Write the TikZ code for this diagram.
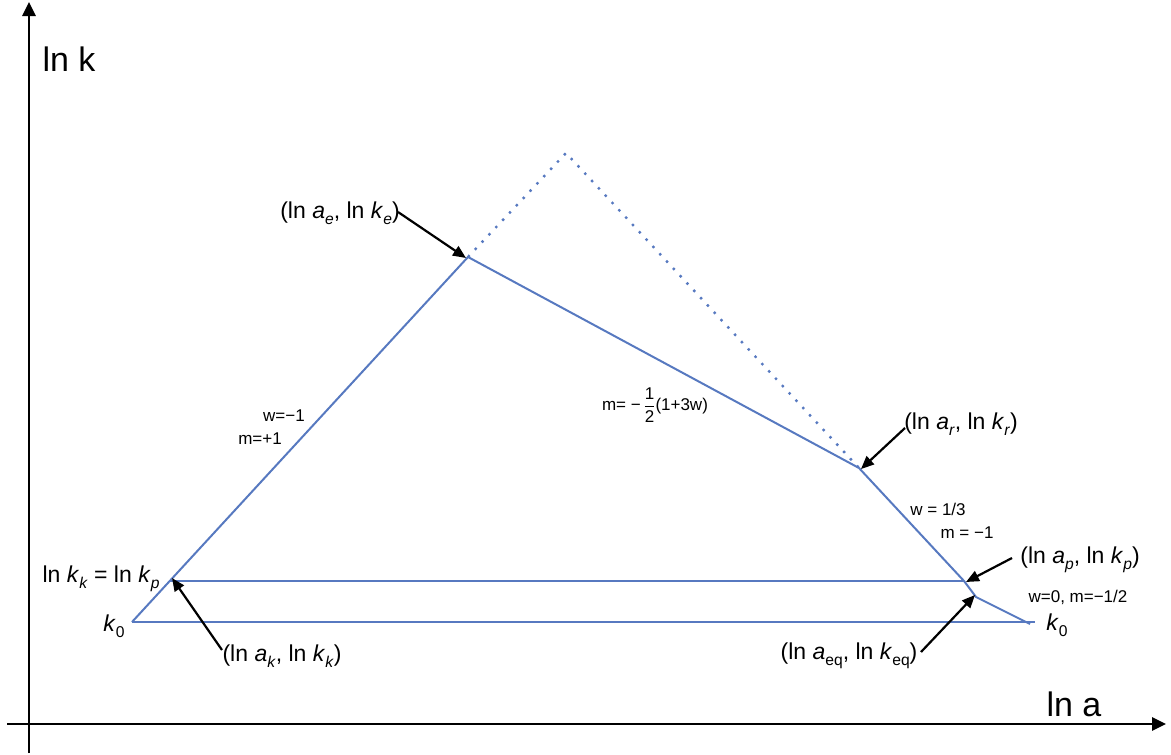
\documentclass[tikz,border=0pt]{standalone}
\usepackage{fontspec}
\setmainfont{Liberation Sans}
\usetikzlibrary{arrows.meta}
\definecolor{lineblue}{HTML}{5779C0}
\newcommand\lsub[1]{\raisebox{-0.25em}{\scalebox{0.68}{#1}}}
\begin{document}
\begin{tikzpicture}[x=1pt,y=-1pt,
  axis/.style={line width=2.8pt,-{Triangle[length=14pt,width=13pt]}},
  curve/.style={lineblue,line width=2pt,line join=miter},
  dotcurve/.style={lineblue,line width=2.4pt,dash pattern=on 2.4pt off 7.6pt},
  pointer/.style={black,line width=2.2pt,-{Triangle[length=13pt,width=11pt]}},
  biglab/.style={inner sep=0pt,font=\fontsize{23}{26}\selectfont},
  axlab/.style={inner sep=0pt,font=\fontsize{34}{38}\selectfont},
  smalllab/.style={inner sep=0pt,font=\fontsize{17}{19}\selectfont}]
\useasboundingbox (0,0) rectangle (1171,755);
% axes
\coordinate (yb) at (29,753);
\coordinate (yt) at (29,2);
\coordinate (xl) at (7,724);
\coordinate (xr) at (1166,724);
\draw[axis] (yb) -- (yt);
\draw[axis] (xl) -- (xr);
\node[axlab] (lnk) at (69,59) {ln k};
\node[axlab] (lna) at (1074,704) {ln a};
% key points
\coordinate (K0L) at (132,622);
\coordinate (Kk) at (170,581);
\coordinate (E) at (468,257);
\coordinate (A) at (566,153);
\coordinate (R) at (859,468);
\coordinate (P) at (964,581);
\coordinate (Eq) at (976,597);
\coordinate (K0R) at (1030,624);
\coordinate (BR) at (1035,622);
% curves
\draw[dotcurve] (E) -- (A) -- (R);
\draw[curve] (K0L) -- (E) -- (R) -- (P) -- (Eq) -- (K0R);
\draw[curve] (Kk) -- (P);
\draw[curve] (K0L) -- (BR);
% labels
\node[biglab] (le) at (340,213) {(ln \textit{a}\lsub{\textit{e}}, ln \textit{k}\lsub{\textit{e}})};
\node[biglab] (lr) at (961,424) {(ln \textit{a}\lsub{\textit{r}}, ln \textit{k}\lsub{\textit{r}})};
\node[biglab] (lp) at (1080,560) {(ln \textit{a}\lsub{\textit{p}}, ln \textit{k}\lsub{\textit{p}})};
\node[biglab] (leq) at (849,656) {(ln \textit{a}\lsub{eq}, ln \textit{k}\lsub{eq})};
\node[biglab] (lk) at (282,656) {(ln \textit{a}\lsub{\textit{k}}, ln \textit{k}\lsub{\textit{k}})};
\node[biglab] (lkk) at (101,579) {ln \textit{k}\lsub{\textit{k}} = ln \textit{k}\lsub{\textit{p}}};
\node[biglab] (k0l) at (114,626) {\textit{k}\lsub{0}};
\node[biglab] (k0r) at (1057,625) {\textit{k}\lsub{0}};
\node[smalllab] (w1) at (284,416) {w=−1};
\node[smalllab] (m1) at (260,439) {m=+1};
\node[smalllab] (mf) at (655,405) {m= −\,$\displaystyle\frac{\mbox{1}}{\mbox{2}}$(1+3w)};
\node[smalllab] (w3) at (938,509) {w = 1/3};
\node[smalllab] (m3) at (967,533) {m = −1};
\node[smalllab] (w0) at (1078,597) {w=0, m=−1/2};
% pointers
\coordinate (te) at (398,212);
\coordinate (tr) at (905,428);
\coordinate (tp) at (1012,558);
\coordinate (teq) at (921,652);
\coordinate (tk) at (222,650);
\draw[pointer] (te) -- ([xshift=-2pt,yshift=-1pt]E);
\draw[pointer] (tr) -- ([xshift=2pt,yshift=-1pt]R);
\draw[pointer] (tp) -- ([xshift=2pt,yshift=-1pt]P);
\draw[pointer] (teq) -- ([xshift=-1pt,yshift=2pt]Eq);
\draw[pointer] (tk) -- ([xshift=2pt,yshift=3pt]Kk);
\end{tikzpicture}
\end{document}
